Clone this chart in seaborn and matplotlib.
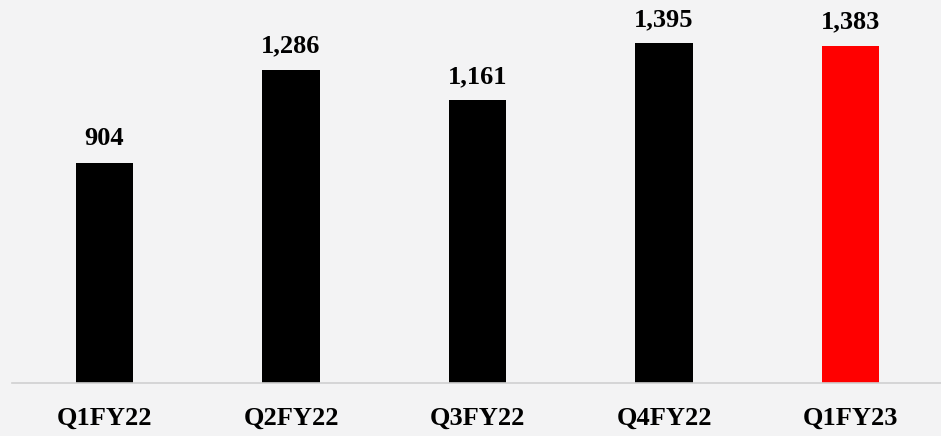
import matplotlib
matplotlib.use('Agg')
import matplotlib.pyplot as plt
import seaborn as sns
import pandas as pd

# quarterly values
quarters = ['Q1FY22', 'Q2FY22', 'Q3FY22', 'Q4FY22', 'Q1FY23']
values = [904, 1286, 1161, 1395, 1383]
bar_colors = ['#000000', '#000000', '#000000', '#000000', '#ff0000']

df = pd.DataFrame({'quarter': quarters, 'value': values})

sns.set_style('white')
plt.rcParams['font.family'] = ['Liberation Serif', 'DejaVu Serif']
plt.rcParams['text.color'] = 'black'
plt.rcParams['xtick.color'] = 'black'

fig = plt.figure(figsize=(9.41, 4.36), dpi=100)
fig.patch.set_facecolor('#f3f3f4')
ax = fig.add_axes([12 / 941, 53 / 436, 929 / 941, 383 / 436])
ax.set_facecolor('none')

sns.barplot(data=df, x='quarter', y='value', hue='quarter',
            palette=bar_colors, width=0.31, legend=False, ax=ax,
            saturation=1, linewidth=0)

# value labels above each bar
for i, v in enumerate(values):
    ax.annotate(f'{v:,}', (i, v), xytext=(0, 9), textcoords='offset points',
                ha='center', va='bottom', fontsize=19, fontweight='bold',
                color='black')

ax.set_xlim(-0.496, 4.485)
ax.set_ylim(0, 1573)
ax.set_xlabel('')
ax.set_ylabel('')
ax.set_yticks([])

for side in ['top', 'right', 'left']:
    ax.spines[side].set_visible(False)
ax.spines['bottom'].set_color('#d0d0d0')
ax.spines['bottom'].set_linewidth(1.2)

ax.tick_params(axis='x', length=0, pad=17, labelsize=19, labelcolor='black')
for lab in ax.get_xticklabels():
    lab.set_fontweight('bold')

plt.savefig('out.png', dpi=100, facecolor=fig.get_facecolor())
